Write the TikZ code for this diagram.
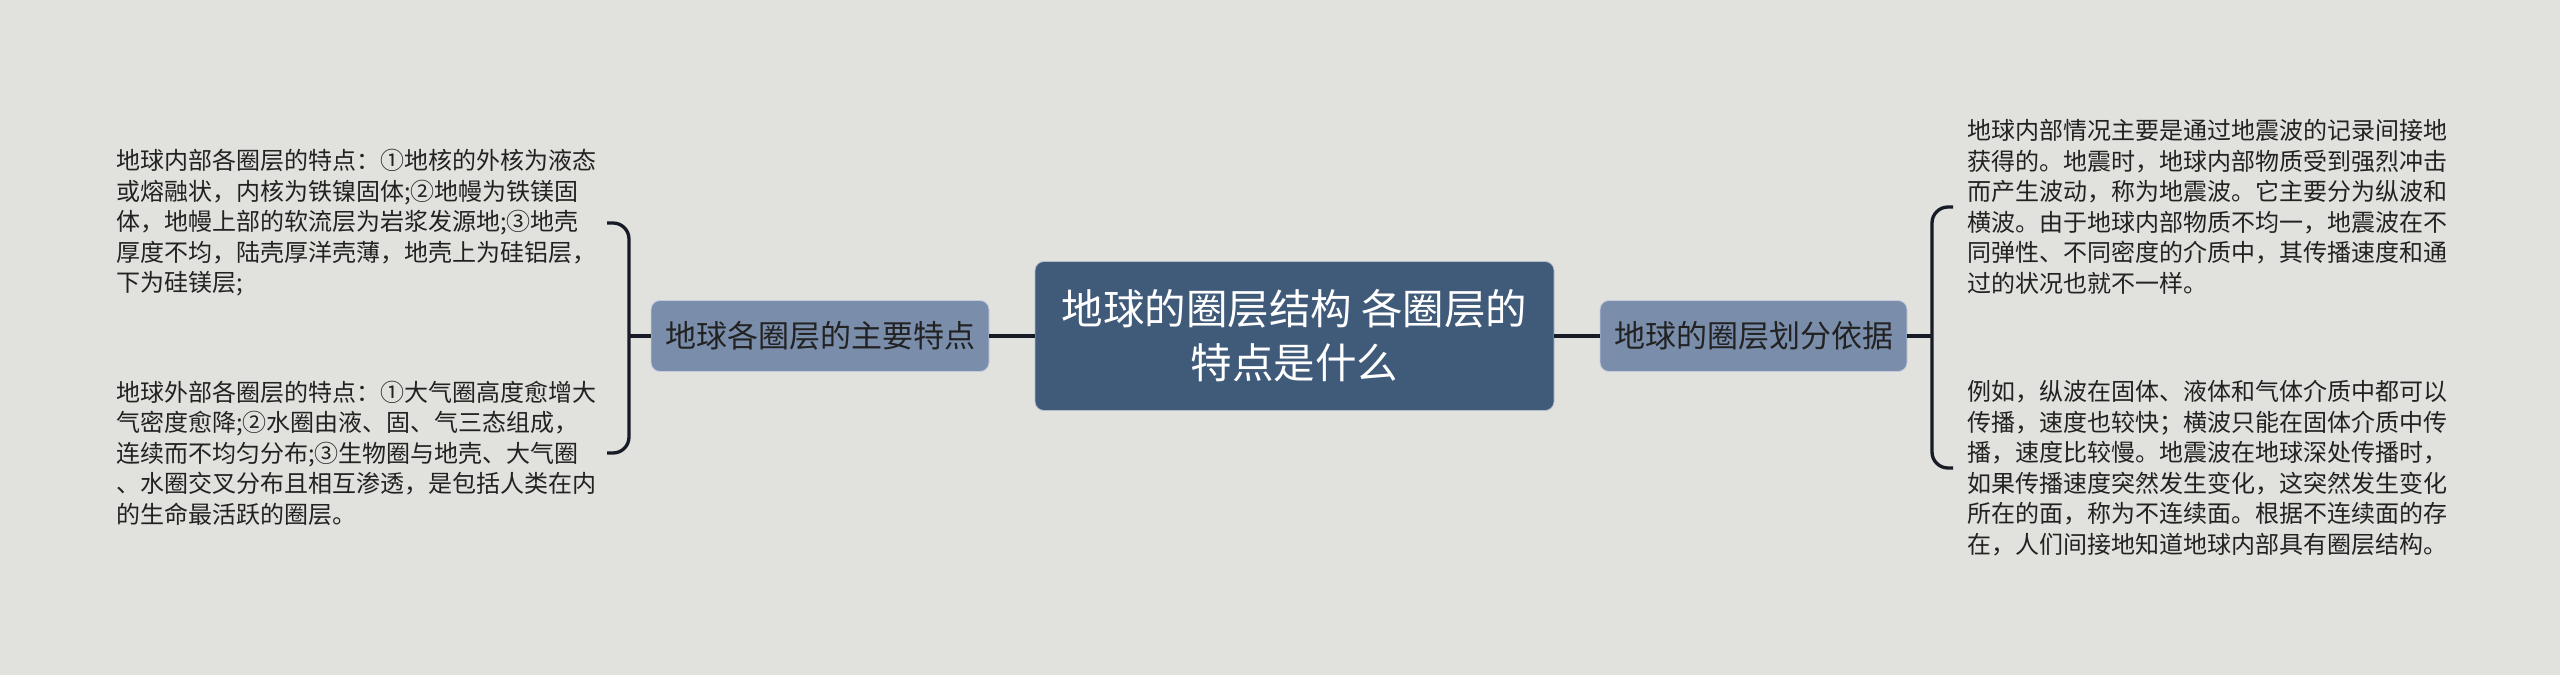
\documentclass[tikz,border=0pt]{standalone}
\usepackage{fontspec}
\newfontfamily\cjk{Noto Sans CJK SC}
\definecolor{bg}{HTML}{E1E2DD}
\definecolor{rootc}{HTML}{405A79}
\definecolor{childc}{HTML}{7A8EAC}
\definecolor{linec}{HTML}{161B26}
\definecolor{txt}{HTML}{222222}
\tikzset{
  rootbox/.style={fill=rootc, draw=white!60!rootc, line width=0.8pt, rounded corners=9pt, minimum width=519pt, minimum height=149pt, inner sep=0pt, align=center, text=white, font=\cjk\fontsize{41.5}{54}\selectfont},
  childbox/.style={fill=childc, draw=white!55!childc, line width=0.8pt, rounded corners=9pt, minimum height=71pt, inner sep=0pt, text=txt, font=\cjk\fontsize{31}{36}\selectfont},
  leaf/.style={anchor=west, inner sep=0pt, align=left, text=txt, font=\cjk\fontsize{24}{30.5}\selectfont},
  conn/.style={draw=linec, line width=3.3pt},
}
\begin{document}
\begin{tikzpicture}[x=1pt,y=-1pt]
\fill[bg] (0,0) rectangle (2560,675);
\useasboundingbox (0,0) rectangle (2560,675);

\node[rootbox] (c) at (1294.5,336) {地球的圈层结构 各圈层的\\特点是什么};
\node[childbox, minimum width=338pt] (lc) at (820,336) {地球各圈层的主要特点};
\node[childbox, minimum width=307pt] (rc) at (1753.5,336) {地球的圈层划分依据};

\node[leaf] (t1) at (116,223) {地球内部各圈层的特点：①地核的外核为液态\\或熔融状，内核为铁镍固体;②地幔为铁镁固\\体，地幔上部的软流层为岩浆发源地;③地壳\\厚度不均，陆壳厚洋壳薄，地壳上为硅铝层，\\下为硅镁层;};
\node[leaf] (t2) at (116,453) {地球外部各圈层的特点：①大气圈高度愈增大\\气密度愈降;②水圈由液、固、气三态组成，\\连续而不均匀分布;③生物圈与地壳、大气圈\\、水圈交叉分布且相互渗透，是包括人类在内\\的生命最活跃的圈层。};
\node[leaf] (t3) at (1967,207) {地球内部情况主要是通过地震波的记录间接地\\获得的。地震时，地球内部物质受到强烈冲击\\而产生波动，称为地震波。它主要分为纵波和\\横波。由于地球内部物质不均一，地震波在不\\同弹性、不同密度的介质中，其传播速度和通\\过的状况也就不一样。};
\node[leaf] (t4) at (1967,468) {例如，纵波在固体、液体和气体介质中都可以\\传播，速度也较快；横波只能在固体介质中传\\播，速度比较慢。地震波在地球深处传播时，\\如果传播速度突然发生变化，这突然发生变化\\所在的面，称为不连续面。根据不连续面的存\\在，人们间接地知道地球内部具有圈层结构。};

% connectors
\draw[conn] (c.west) -- (lc.east);
\draw[conn] (c.east) -- (rc.west);

\coordinate (lj) at (629,336);
\coordinate (ltop) at (607,223);
\coordinate (lbot) at (607,453);
\draw[conn] (lc.west) -- (lj);
\draw[conn, rounded corners=16pt] (ltop) -- (629,223) -- (629,453) -- (lbot);

\coordinate (rj) at (1932,336);
\coordinate (rtop) at (1953,207);
\coordinate (rbot) at (1953,468);
\draw[conn] (rc.east) -- (rj);
\draw[conn, rounded corners=16pt] (rtop) -- (1932,207) -- (1932,468) -- (rbot);
\end{tikzpicture}
\end{document}
